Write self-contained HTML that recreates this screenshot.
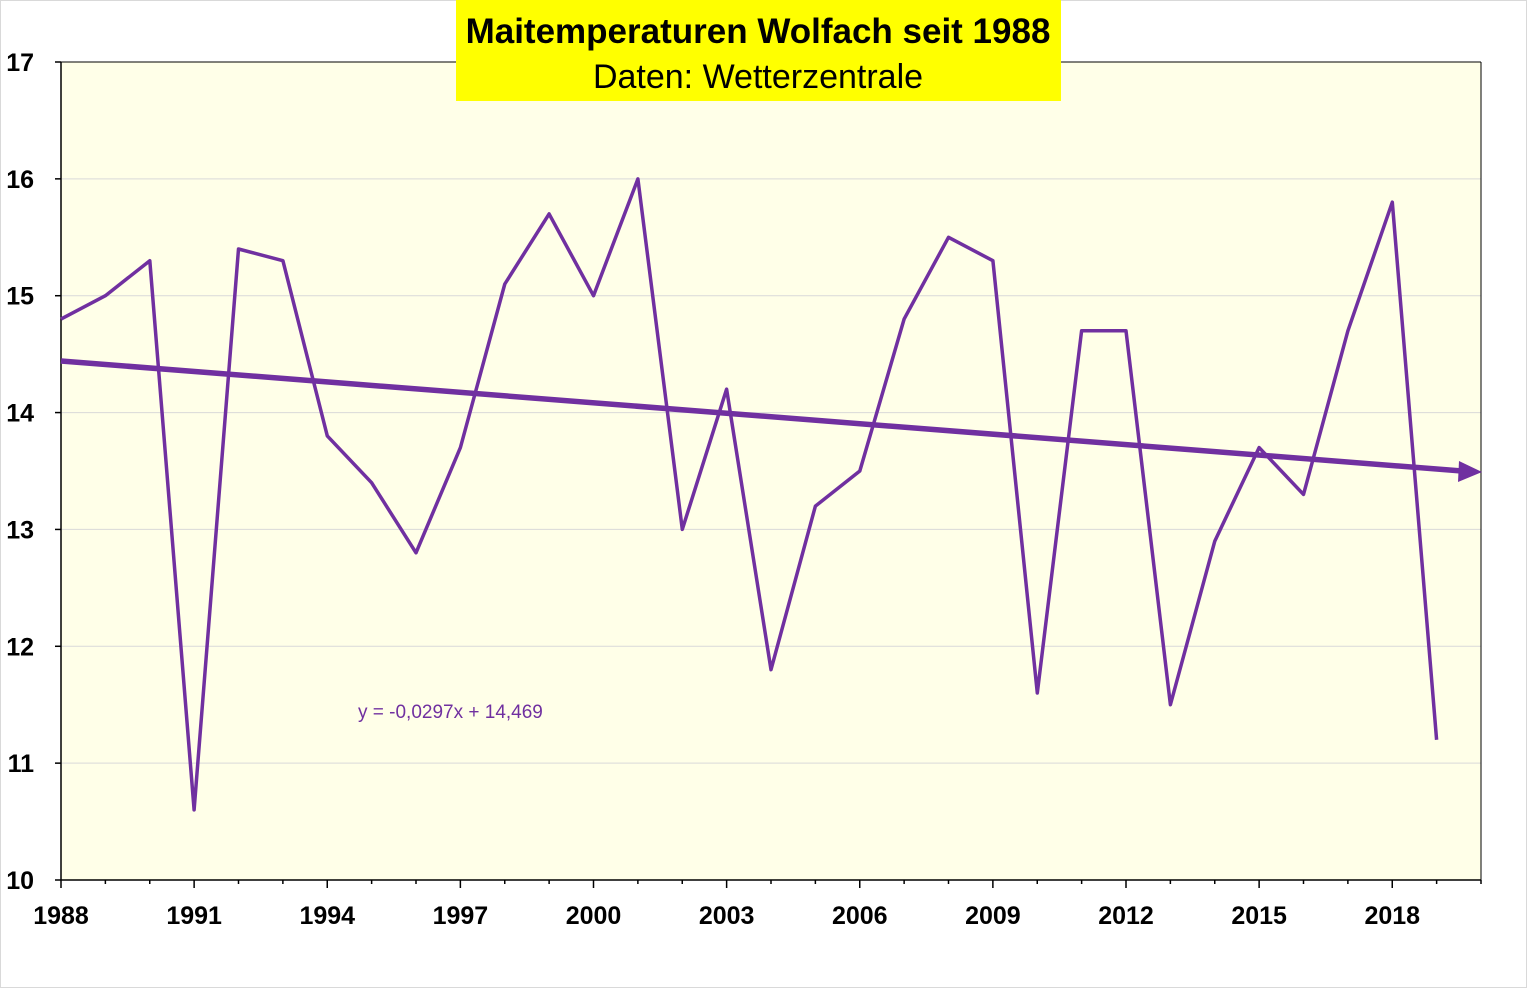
<!DOCTYPE html>
<html><head><meta charset="utf-8"><style>
html,body{margin:0;padding:0;background:#fff}
svg{display:block;font-family:"Liberation Sans",Arial,sans-serif}
</style></head><body>
<svg id="s" width="1527" height="988" viewBox="0 0 1527 988">
<rect x="0.5" y="0.5" width="1526" height="987" fill="#fff" stroke="#d9d9d9"/>
<rect x="61" y="62" width="1420" height="818" fill="#ffffe8"/>
<g id="grid" stroke="#d9d9d9" stroke-width="1"></g>
<g id="ylab" font-size="25" font-weight="bold" fill="#000" text-anchor="end"></g>
<g id="xlab" font-size="25" font-weight="bold" fill="#000" text-anchor="middle"></g>
<line x1="61" y1="62" x2="61" y2="880" stroke="#000" stroke-width="1.5"/>
<line x1="61" y1="880" x2="1481" y2="880" stroke="#000" stroke-width="1.5"/>
<line x1="1481" y1="62" x2="1481" y2="880" stroke="#000" stroke-width="1"/>
<line x1="61" y1="62" x2="1481" y2="62" stroke="#000" stroke-width="1"/>
<g id="ticks" stroke="#000" stroke-width="1.5"></g>
<polyline id="data" fill="none" stroke="#7030a0" stroke-width="3.5" stroke-linejoin="round"/>
<line x1="61" y1="361" x2="1462" y2="471" stroke="#7030a0" stroke-width="5.5"/>
<polygon points="1482,472 1459,461 1458,482" fill="#7030a0"/>
<text x="358" y="718" font-size="19" fill="#7030a0">y = -0,0297x + 14,469</text>
<rect x="456" y="0" width="605" height="101" fill="#ffff00"/>
<text x="758" y="43" font-size="35" font-weight="bold" text-anchor="middle" fill="#000">Maitemperaturen Wolfach seit 1988</text>
<text x="758" y="88" font-size="34" text-anchor="middle" fill="#000">Daten: Wetterzentrale</text>
</svg>
<script>
var d=[14.8,15.0,15.3,10.6,15.4,15.3,13.8,13.4,12.8,13.7,15.1,15.7,15.0,16.0,13.0,14.2,11.8,13.2,13.5,14.8,15.5,15.3,11.6,14.7,14.7,11.5,12.9,13.7,13.3,14.7,15.8,11.2];
function X(i){return 61+i*44.375}function Y(v){return 880-(v-10)*116.857}
var ns="http://www.w3.org/2000/svg";
document.getElementById('data').setAttribute('points',d.map(function(v,i){return X(i).toFixed(1)+','+Y(v).toFixed(1)}).join(' '));
var g=document.getElementById('grid'),yl=document.getElementById('ylab'),xl=document.getElementById('xlab'),tk=document.getElementById('ticks');
for(var v=10;v<=17;v++){var y=Y(v);
 if(v>10&&v<17){var l=document.createElementNS(ns,'line');l.setAttribute('x1',61);l.setAttribute('x2',1481);l.setAttribute('y1',y);l.setAttribute('y2',y);g.appendChild(l);}
 var t=document.createElementNS(ns,'text');t.setAttribute('x',34);t.setAttribute('y',y+9);t.textContent=v;yl.appendChild(t);
 var k=document.createElementNS(ns,'line');k.setAttribute('x1',55);k.setAttribute('x2',61);k.setAttribute('y1',y);k.setAttribute('y2',y);tk.appendChild(k);}
for(var i=0;i<=32;i++){var x=X(i);var k=document.createElementNS(ns,'line');k.setAttribute('x1',x);k.setAttribute('x2',x);k.setAttribute('y1',880);k.setAttribute('y2',i%3==0?888:884);tk.appendChild(k);
 if(i%3==0&&i<=30){var t=document.createElementNS(ns,'text');t.setAttribute('x',x);t.setAttribute('y',924);t.textContent=1988+i;xl.appendChild(t);}}
</script>
</body></html>
